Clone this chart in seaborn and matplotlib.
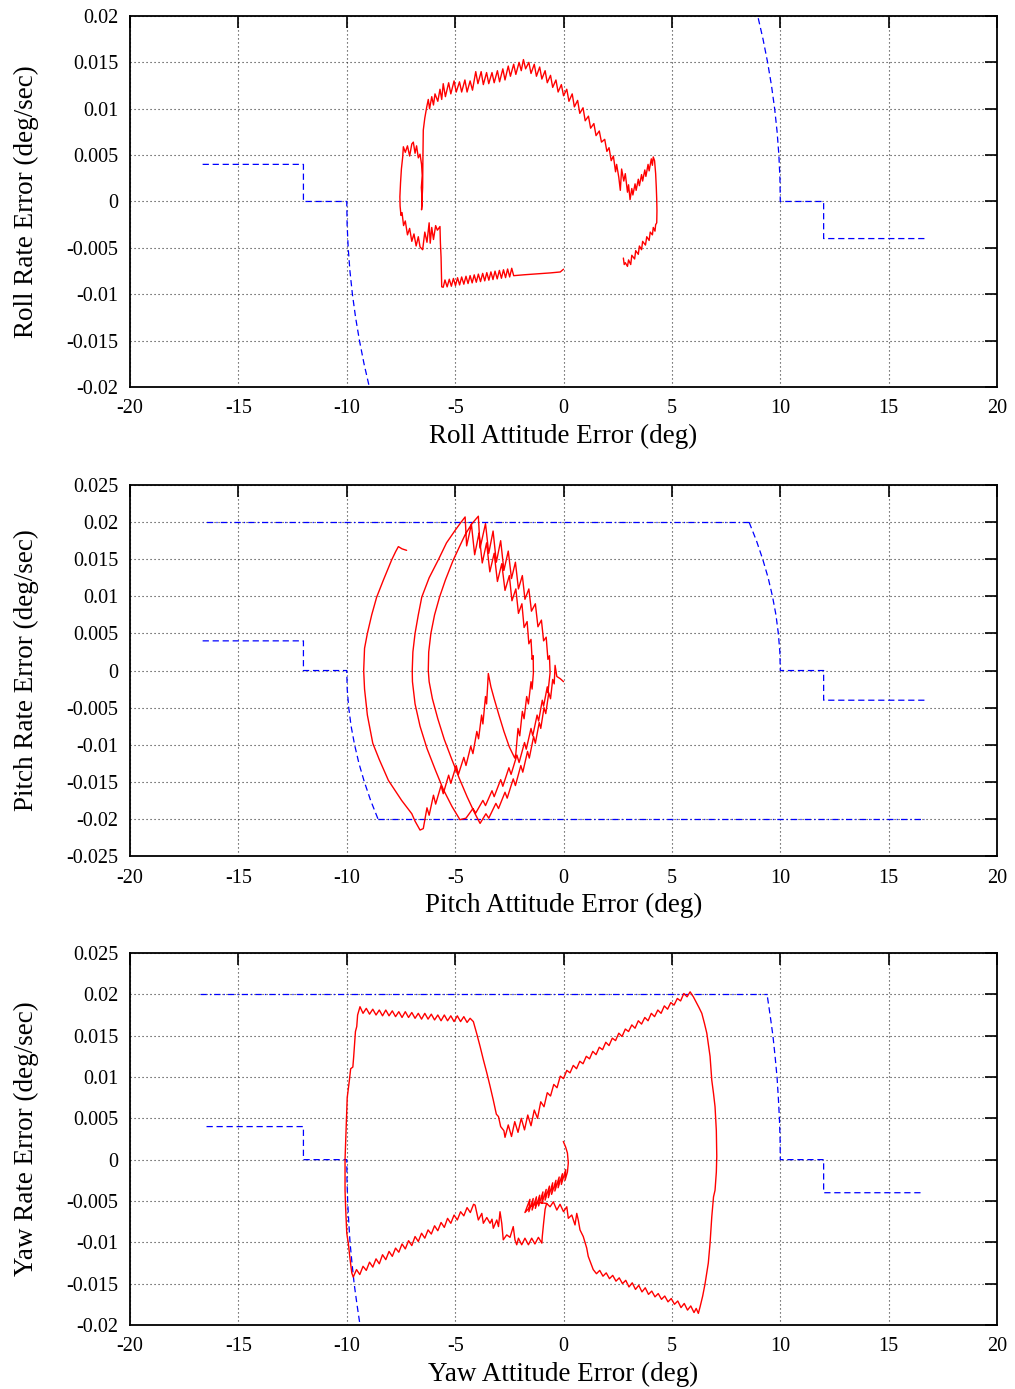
import numpy as np
import matplotlib
matplotlib.use("Agg")
import matplotlib.pyplot as plt
import seaborn as sns

# ---------------- data ----------------
x_ticks = [-20, -15, -10, -5, 0, 5, 10, 15, 20]
x_tick_labels = ["-20", "-15", "-10", "-5", "0", "5", "10", "15", "20"]

roll_yticks = [-0.02, -0.015, -0.01, -0.005, 0.0, 0.005, 0.01, 0.015, 0.02]
roll_ytick_labels = ["-0.02", "-0.015", "-0.01", "-0.005", "0", "0.005", "0.01", "0.015", "0.02"]
pitch_yticks = [-0.025, -0.02, -0.015, -0.01, -0.005, 0.0, 0.005, 0.01, 0.015, 0.02, 0.025]
pitch_ytick_labels = ["-0.025", "-0.02", "-0.015", "-0.01", "-0.005", "0", "0.005", "0.01", "0.015", "0.02", "0.025"]
yaw_yticks = [-0.02, -0.015, -0.01, -0.005, 0.0, 0.005, 0.01, 0.015, 0.02, 0.025]
yaw_ytick_labels = ["-0.02", "-0.015", "-0.01", "-0.005", "0", "0.005", "0.01", "0.015", "0.02", "0.025"]

# switching lines (blue)
roll_sw_x = [-16.65, -12.0, -12.0, -10.0, -10.0, -9.984, -9.935, -9.854, -9.74, -9.594, -9.415, -9.204, -8.96]
roll_sw_y = [0.004, 0.004, 0.0, 0.0, 0.0, -0.0025, -0.005, -0.0075, -0.01, -0.0125, -0.015, -0.0175, -0.02]
pitch_sw_x = [-16.65, -12.0, -12.0, -10.0, -10.0, -9.98, -9.91, -9.8, -9.64, -9.44, -9.19, -8.9, -8.56]
pitch_sw_y = [0.004, 0.004, 0.0, 0.0, 0.0, -0.0025, -0.005, -0.0075, -0.01, -0.0125, -0.015, -0.0175, -0.02]
pitch_limit_x = [-8.56, 16.65]
pitch_limit_y = [-0.02, -0.02]
yaw_sw_x = [-16.47, -12.0, -12.0, -10.0, -10.0, -9.99, -9.96, -9.91, -9.85, -9.76, -9.66, -9.53, -9.39]
yaw_sw_y = [0.004, 0.004, 0.0, 0.0, 0.0, -0.0025, -0.005, -0.0075, -0.01, -0.0125, -0.015, -0.0175, -0.02]
yaw_limit_x = [-16.75, 9.39]
yaw_limit_y = [0.02, 0.02]

# phase trajectories (red), (attitude deg, rate deg/sec)
roll_path = np.array([
    (0.0, -0.0073), (-0.15, -0.0076), (-0.6, -0.0077), (-1.2, -0.0078), (-1.8, -0.0079), (-2.3, -0.0080),
    (-2.39, -0.0072), (-2.485, -0.00814), (-2.58, -0.00728), (-2.675, -0.00821), (-2.77, -0.00736),
    (-2.865, -0.00828), (-2.96, -0.00743), (-3.06, -0.00835), (-3.16, -0.00751), (-3.255, -0.00842),
    (-3.35, -0.00759), (-3.445, -0.00849), (-3.54, -0.00767), (-3.635, -0.00856), (-3.73, -0.00775),
    (-3.83, -0.00864), (-3.93, -0.00783), (-4.025, -0.00871), (-4.12, -0.00791), (-4.215, -0.00878),
    (-4.31, -0.00799), (-4.405, -0.00885), (-4.5, -0.00806), (-4.6, -0.00892), (-4.7, -0.00814),
    (-4.795, -0.009), (-4.89, -0.00822), (-4.985, -0.00907), (-5.08, -0.0083), (-5.175, -0.00914),
    (-5.27, -0.00838), (-5.37, -0.00921), (-5.47, -0.00846), (-5.55, -0.00925),
    (-5.62, -0.0092), (-5.65, -0.006), (-5.68, -0.0045), (-5.7, -0.0027), (-5.82, -0.0031), (-5.9, -0.0026),
    (-6.0, -0.0041), (-6.08, -0.0028), (-6.15, -0.0045), (-6.2, -0.0023), (-6.3, -0.0044), (-6.4, -0.0033),
    (-6.5, -0.0052), (-6.62, -0.0049), (-6.7, -0.0038), (-6.8, -0.0048), (-6.9, -0.0035), (-7.0, -0.0043),
    (-7.1, -0.0029), (-7.2, -0.0036), (-7.3, -0.0021), (-7.38, -0.0026), (-7.45, -0.0012), (-7.5, -0.0015),
    (-7.54, -0.0005), (-7.55, 0.0005), (-7.52, 0.002), (-7.48, 0.0035), (-7.42, 0.0048), (-7.39, 0.0059),
    (-7.3, 0.0053), (-7.2, 0.006), (-7.1, 0.0049), (-7.0, 0.0062), (-6.93, 0.0064), (-6.85, 0.0052),
    (-6.78, 0.006), (-6.7, 0.0047), (-6.62, 0.0051), (-6.55, 0.004), (-6.52, 0.0028), (-6.56, 0.0015),
    (-6.52, 0.0), (-6.55, -0.0009), (-6.5, 0.0015), (-6.49, 0.0041), (-6.47, 0.0077), (-6.4, 0.009),
    (-6.31, 0.0102), (-6.24, 0.011), (-6.18, 0.01), (-6.08, 0.0113), (-6.0, 0.0104), (-5.93, 0.0116),
    (-5.8, 0.0108), (-5.7, 0.0121), (-5.62, 0.011), (-5.55, 0.0127), (-5.45, 0.0113), (-5.3, 0.0128),
    (-5.2, 0.0116), (-5.05, 0.013), (-4.95, 0.0118), (-4.8, 0.0129), (-4.7, 0.0118), (-4.55, 0.0131),
    (-4.45, 0.0118), (-4.31, 0.013), (-4.2, 0.012), (-4.05, 0.014), (-3.95, 0.0127), (-3.8, 0.014),
    (-3.7, 0.0126), (-3.55, 0.0139), (-3.45, 0.0127), (-3.3, 0.0139), (-3.2, 0.0128), (-3.05, 0.0141),
    (-2.95, 0.0129), (-2.8, 0.0143), (-2.7, 0.0131), (-2.55, 0.0146), (-2.45, 0.0135), (-2.3, 0.0148),
    (-2.2, 0.0137), (-2.05, 0.015), (-1.95, 0.0141), (-1.85, 0.0153), (-1.75, 0.0143), (-1.6, 0.015),
    (-1.5, 0.0138), (-1.35, 0.0148), (-1.25, 0.0135), (-1.1, 0.0145), (-1.0, 0.0132), (-0.85, 0.0141),
    (-0.75, 0.0128), (-0.6, 0.0136), (-0.5, 0.0123), (-0.35, 0.0131), (-0.25, 0.0118), (-0.1, 0.0126),
    (0.0, 0.0114), (0.15, 0.0121), (0.25, 0.0108), (0.4, 0.0116), (0.5, 0.0102), (0.65, 0.0109),
    (0.75, 0.0095), (0.9, 0.0101), (1.0, 0.0087), (1.15, 0.0092), (1.25, 0.0079), (1.4, 0.0084),
    (1.5, 0.0071), (1.65, 0.0076), (1.75, 0.0064), (1.9, 0.0067), (2.0, 0.0054), (2.1, 0.0058),
    (2.2, 0.0044), (2.3, 0.0049), (2.4, 0.0032), (2.45, 0.004), (2.55, 0.0026), (2.62, 0.0012),
    (2.68, 0.0035), (2.78, 0.0022), (2.85, 0.003), (2.95, 0.001), (3.0, 0.0018), (3.07, 0.0002),
    (3.15, 0.0014), (3.2, 0.0007), (3.3, 0.0019), (3.35, 0.0012), (3.45, 0.0024), (3.5, 0.0017),
    (3.6, 0.0029), (3.65, 0.0022), (3.75, 0.0034), (3.8, 0.0027), (3.9, 0.004), (3.95, 0.0033),
    (4.05, 0.0046), (4.1, 0.0039), (4.14, 0.0048), (4.2, 0.0044), (4.25, 0.003), (4.28, 0.0015),
    (4.3, 0.0002), (4.31, -0.001), (4.3, -0.0023), (4.25, -0.0025), (4.22, -0.0032), (4.14, -0.0028),
    (4.1, -0.0036), (4.0, -0.0033), (3.95, -0.0042), (3.84, -0.0038), (3.78, -0.0047), (3.65, -0.0043),
    (3.6, -0.0052), (3.5, -0.0048), (3.45, -0.0057), (3.33, -0.0053), (3.28, -0.0062), (3.15, -0.0058),
    (3.1, -0.0068), (3.0, -0.0063), (2.95, -0.007), (2.85, -0.0066), (2.8, -0.0068), (2.76, -0.0061),
])

pitch_path = np.array([
    (0.0, -0.0015), (-0.15, -0.0011), (-0.31, -0.0008), (-0.39, 0.0007), (-0.43, -0.0018), (-0.5, -0.0012),
    (-0.6, -0.0038), (-0.68, -0.003), (-0.82, -0.0058), (-0.9, -0.005), (-1.05, -0.0078), (-1.12, -0.007),
    (-1.3, -0.0098), (-1.38, -0.0089), (-1.58, -0.0118), (-1.66, -0.0109), (-1.88, -0.0137), (-1.97, -0.0128),
    (-2.22, -0.0155), (-2.32, -0.0146), (-2.6, -0.0172), (-2.7, -0.0164), (-3.0, -0.0186), (-3.12, -0.0179),
    (-3.45, -0.0199), (-3.58, -0.0193), (-3.85, -0.0206),
    (-4.1, -0.0192), (-4.45, -0.017), (-4.8, -0.0146), (-5.15, -0.012), (-5.5, -0.0093), (-5.8, -0.0065),
    (-6.05, -0.0038), (-6.2, -0.0015), (-6.24, 0.0), (-6.22, 0.0025), (-6.12, 0.005), (-5.95, 0.0075),
    (-5.72, 0.0099), (-5.45, 0.0122), (-5.1, 0.0148), (-4.8, 0.0167), (-4.54, 0.0183), (-4.25, 0.0197),
    (-4.05, 0.0204), (-3.93, 0.0208),
    (-3.85, 0.0165), (-3.6, 0.0198), (-3.45, 0.0158), (-3.25, 0.0188), (-3.1, 0.0146), (-2.9, 0.0175),
    (-2.75, 0.0135), (-2.55, 0.0161), (-2.4, 0.0124), (-2.22, 0.0146), (-2.08, 0.011), (-1.9, 0.0128),
    (-1.78, 0.0096), (-1.6, 0.011), (-1.48, 0.008), (-1.3, 0.009), (-1.18, 0.0059), (-1.02, 0.0068),
    (-0.92, 0.004), (-0.8, 0.0045), (-0.72, 0.0015), (-0.65, 0.002), (-0.62, -0.0003),
    (-0.72, -0.003), (-0.75, -0.0022), (-0.92, -0.0048), (-0.98, -0.004), (-1.15, -0.0068), (-1.22, -0.006),
    (-1.42, -0.0088), (-1.5, -0.0078), (-1.72, -0.0106), (-1.8, -0.0097), (-2.05, -0.0124), (-2.15, -0.0114),
    (-2.42, -0.014), (-2.52, -0.0131), (-2.8, -0.0156), (-2.9, -0.0147), (-3.2, -0.017), (-3.3, -0.0162),
    (-3.6, -0.0182), (-3.72, -0.0175), (-4.05, -0.0192), (-4.18, -0.0186), (-4.5, -0.0199), (-4.78, -0.0201),
    (-5.15, -0.0183), (-5.55, -0.016), (-5.9, -0.0135), (-6.3, -0.0105), (-6.62, -0.0075), (-6.85, -0.0045),
    (-6.97, -0.0015), (-6.98, 0.0), (-6.95, 0.0025), (-6.85, 0.005), (-6.7, 0.0075), (-6.54, 0.0099),
    (-6.2, 0.0125), (-5.78, 0.0149), (-5.4, 0.0172), (-5.0, 0.0189), (-4.75, 0.0199), (-4.54, 0.0207),
    (-4.47, 0.0168), (-4.25, 0.0197), (-4.1, 0.0156), (-3.9, 0.0185), (-3.75, 0.0145), (-3.55, 0.0172),
    (-3.4, 0.0133), (-3.2, 0.0158), (-3.05, 0.012), (-2.85, 0.0144), (-2.7, 0.0108), (-2.5, 0.0128),
    (-2.38, 0.0094), (-2.2, 0.011), (-2.08, 0.0077), (-1.92, 0.009), (-1.82, 0.0058), (-1.68, 0.0066),
    (-1.6, 0.0036), (-1.5, 0.0042), (-1.45, 0.0015), (-1.4, 0.002), (-1.39, -0.0003),
    (-1.45, -0.0025), (-1.5, -0.0015), (-1.62, -0.0045), (-1.7, -0.0035), (-1.82, -0.0065), (-1.9, -0.0055),
    (-2.02, -0.0088), (-2.1, -0.0078), (-2.2, -0.0112), (-2.25, -0.0118),
    (-2.5, -0.0103), (-2.75, -0.0082), (-2.98, -0.006), (-3.2, -0.0038), (-3.35, -0.0022), (-3.47, -0.0004),
    (-3.55, -0.0045), (-3.6, -0.0035), (-3.72, -0.0072), (-3.78, -0.006), (-3.92, -0.0092), (-4.0, -0.0082),
    (-4.18, -0.0112), (-4.28, -0.0102), (-4.5, -0.0128), (-4.6, -0.0117), (-4.85, -0.014), (-4.95, -0.0128),
    (-5.2, -0.0152), (-5.3, -0.0141), (-5.55, -0.0166), (-5.65, -0.0155), (-5.9, -0.018), (-6.0, -0.0168),
    (-6.2, -0.0195), (-6.3, -0.0185), (-6.47, -0.0213), (-6.62, -0.0215),
    (-6.85, -0.0203), (-7.0, -0.0193), (-7.47, -0.0175), (-8.08, -0.0148), (-8.5, -0.012), (-8.8, -0.0098),
    (-9.05, -0.006), (-9.18, -0.0025), (-9.22, 0.0), (-9.18, 0.003), (-9.05, 0.005), (-8.85, 0.0075),
    (-8.62, 0.0099), (-8.31, 0.0122), (-7.93, 0.0149), (-7.75, 0.016), (-7.62, 0.0167), (-7.45, 0.0164),
    (-7.24, 0.0162),
])

yaw_path = np.array([
    (-0.01, 0.0022), (0.1, 0.0015), (0.18, 0.0008), (0.22, -0.0004), (0.18, -0.0015), (0.07, -0.0025),
    (0.1, -0.0012), (-0.1, -0.003), (-0.05, -0.0017), (-0.25, -0.0034), (-0.2, -0.0021), (-0.4, -0.0038),
    (-0.35, -0.0025), (-0.55, -0.0042), (-0.5, -0.0028), (-0.7, -0.0046), (-0.65, -0.0032), (-0.85, -0.0049),
    (-0.8, -0.0036), (-1.0, -0.0053), (-0.95, -0.0039), (-1.15, -0.0056), (-1.1, -0.0043), (-1.3, -0.0059),
    (-1.25, -0.0045), (-1.45, -0.0061), (-1.4, -0.0047), (-1.6, -0.0063), (-1.55, -0.0048), (-1.78, -0.0064),
    (-1.5, -0.0056), (-1.1, -0.0052), (-0.78, -0.0053),
    (-0.62, -0.0057), (-0.47, -0.0051), (-0.31, -0.0061), (-0.16, -0.0054), (0.0, -0.0063), (0.15, -0.0057),
    (0.22, -0.0071), (0.38, -0.0067), (0.53, -0.0079), (0.61, -0.0065), (0.68, -0.0073), (0.76, -0.0085),
    (0.91, -0.0093), (1.07, -0.0107), (1.14, -0.0117), (1.37, -0.0133),
    (1.52, -0.0138), (1.67, -0.0134), (1.82, -0.0141), (1.97, -0.0137), (2.12, -0.0144), (2.27, -0.014),
    (2.42, -0.0147), (2.57, -0.0143), (2.72, -0.015), (2.87, -0.0146), (3.02, -0.0154), (3.17, -0.0149),
    (3.32, -0.0157), (3.47, -0.0152), (3.62, -0.016), (3.77, -0.0155), (3.92, -0.0163), (4.07, -0.0159),
    (4.22, -0.0166), (4.37, -0.0162), (4.52, -0.0169), (4.67, -0.0165), (4.82, -0.0172), (4.97, -0.0168),
    (5.12, -0.0175), (5.27, -0.0171), (5.42, -0.0179), (5.57, -0.0174), (5.72, -0.0182), (5.87, -0.0177),
    (6.02, -0.0185), (6.12, -0.018), (6.22, -0.0186),
    (6.3, -0.0178), (6.42, -0.0165), (6.53, -0.015), (6.62, -0.0135), (6.68, -0.0125), (6.76, -0.0101),
    (6.84, -0.0069), (6.92, -0.0045), (6.99, -0.0037), (7.05, -0.0015), (7.07, 0.0004), (7.05, 0.0035),
    (6.99, 0.0064), (6.92, 0.008), (6.84, 0.0096), (6.76, 0.0125), (6.68, 0.014), (6.61, 0.0153),
    (6.5, 0.0165), (6.38, 0.0177), (6.25, 0.0184), (6.15, 0.0189), (5.99, 0.0197), (5.84, 0.0203),
    (5.7, 0.0197), (5.55, 0.0201), (5.4, 0.0192), (5.25, 0.0195), (5.1, 0.0187), (4.95, 0.019),
    (4.8, 0.0182), (4.65, 0.0186), (4.5, 0.0177), (4.35, 0.0181), (4.2, 0.0173), (4.05, 0.0177),
    (3.9, 0.0168), (3.75, 0.0172), (3.6, 0.0164), (3.45, 0.0168), (3.3, 0.0159), (3.15, 0.0163),
    (3.0, 0.0155), (2.85, 0.0158), (2.7, 0.0149), (2.55, 0.0153), (2.4, 0.0144), (2.25, 0.0147),
    (2.1, 0.0138), (1.95, 0.0142), (1.8, 0.0133), (1.65, 0.0136), (1.5, 0.0127), (1.35, 0.0131),
    (1.2, 0.0122), (1.05, 0.0125), (0.9, 0.0116), (0.75, 0.0119), (0.6, 0.011), (0.45, 0.0114),
    (0.3, 0.0105), (0.15, 0.0108), (0.0, 0.0098), (-0.15, 0.0101), (-0.3, 0.0087), (-0.45, 0.0091),
    (-0.6, 0.0077), (-0.75, 0.0081), (-0.9, 0.0064), (-1.05, 0.007), (-1.2, 0.005), (-1.35, 0.006),
    (-1.5, 0.0041), (-1.65, 0.0054), (-1.8, 0.0036), (-1.95, 0.005), (-2.1, 0.0033), (-2.25, 0.0046),
    (-2.4, 0.0028), (-2.55, 0.0042), (-2.7, 0.0027),
    (-2.75, 0.0035), (-2.9, 0.004), (-3.0, 0.0052), (-3.1, 0.0055), (-3.24, 0.0072), (-3.4, 0.009),
    (-3.54, 0.0105), (-3.7, 0.0121), (-3.85, 0.0137), (-4.0, 0.0152), (-4.16, 0.0167), (-4.31, 0.0171),
    (-4.45, 0.0166), (-4.6, 0.0173), (-4.75, 0.0167), (-4.9, 0.0174), (-5.05, 0.0167), (-5.2, 0.0174),
    (-5.35, 0.0168), (-5.5, 0.0175), (-5.65, 0.0168), (-5.8, 0.0175), (-5.95, 0.0169), (-6.1, 0.0176),
    (-6.25, 0.017), (-6.4, 0.0177), (-6.55, 0.017), (-6.7, 0.0177), (-6.85, 0.0171), (-7.0, 0.0178),
    (-7.15, 0.0172), (-7.3, 0.0179), (-7.45, 0.0172), (-7.6, 0.0179), (-7.75, 0.0173), (-7.9, 0.018),
    (-8.05, 0.0174), (-8.2, 0.0181), (-8.35, 0.0174), (-8.5, 0.0181), (-8.65, 0.0175), (-8.8, 0.0182),
    (-8.95, 0.0176), (-9.1, 0.0183), (-9.25, 0.0177), (-9.39, 0.0185),
    (-9.5, 0.0175), (-9.54, 0.0161), (-9.6, 0.0155), (-9.68, 0.0125), (-9.72, 0.0112), (-9.82, 0.011),
    (-9.88, 0.0096), (-9.98, 0.0075), (-10.03, 0.0036), (-10.08, 0.0), (-10.08, -0.0037), (-10.05, -0.006),
    (-10.0, -0.0089), (-9.93, -0.0101), (-9.85, -0.012), (-9.77, -0.0137), (-9.7, -0.0142),
    (-9.55, -0.0133), (-9.4, -0.0139), (-9.25, -0.0129), (-9.1, -0.0134), (-8.95, -0.0124), (-8.8, -0.013),
    (-8.65, -0.012), (-8.5, -0.0126), (-8.35, -0.0115), (-8.2, -0.0121), (-8.05, -0.0111), (-7.9, -0.0117),
    (-7.75, -0.0107), (-7.6, -0.0112), (-7.45, -0.0102), (-7.3, -0.0108), (-7.15, -0.0098), (-7.0, -0.0104),
    (-6.85, -0.0093), (-6.7, -0.0099), (-6.55, -0.0089), (-6.4, -0.0095), (-6.25, -0.0085), (-6.1, -0.009),
    (-5.95, -0.008), (-5.8, -0.0086), (-5.65, -0.0076), (-5.5, -0.0082), (-5.35, -0.0071), (-5.2, -0.0077),
    (-5.05, -0.0067), (-4.9, -0.0073), (-4.75, -0.0063), (-4.6, -0.0068), (-4.45, -0.0058), (-4.3, -0.0064),
    (-4.15, -0.0054), (-4.08, -0.0055),
    (-3.93, -0.0073), (-3.77, -0.0065), (-3.7, -0.0077), (-3.54, -0.007), (-3.39, -0.0077), (-3.3, -0.0072),
    (-3.24, -0.0083), (-3.08, -0.0073), (-3.0, -0.0081), (-2.93, -0.0063), (-2.85, -0.0077), (-2.78, -0.0097),
    (-2.62, -0.0091), (-2.47, -0.0094), (-2.32, -0.0081), (-2.24, -0.0097), (-2.16, -0.0103),
    (-2.08, -0.0095), (-1.93, -0.0103), (-1.78, -0.0095), (-1.62, -0.0103), (-1.47, -0.0095), (-1.32, -0.0102),
    (-1.16, -0.0094), (-1.0, -0.0101), (-0.98, -0.0093), (-0.92, -0.0077), (-0.85, -0.006), (-0.78, -0.0053),
])

# ---------------- figure formatting ----------------
sns.set_theme(style="white")
plt.rcParams['font.family'] = ['Liberation Serif', 'DejaVu Serif']
plt.rcParams['axes.unicode_minus'] = False

RED = '#ff0000'
BLUE = '#0000ff'
DASH = (0, (5, 3))
DASHDOT = (0, (5, 2.5, 1, 2.5))

fig = plt.figure(figsize=(10.15, 13.89), dpi=100)
ax1 = fig.add_axes([0.1281, 0.7214, 0.8542, 0.2671])
ax2 = fig.add_axes([0.1281, 0.3837, 0.8542, 0.2671])
ax3 = fig.add_axes([0.1281, 0.0461, 0.8542, 0.2678])


def style_axes(ax, yticks, ylabels, ylim, xlabel, ylabel):
    ax.set_xlim(-20, 20)
    ax.set_ylim(*ylim)
    ax.set_xticks(x_ticks)
    ax.set_xticklabels(x_tick_labels)
    ax.set_yticks(yticks)
    ax.set_yticklabels(ylabels)
    ax.tick_params(direction='in', length=8.5, width=1.2, top=True, right=True,
                   labelsize=14.5, colors='black')
    ax.tick_params(axis='x', pad=9)
    ax.tick_params(axis='y', pad=8.5)
    ax.set_axisbelow(True)
    ax.grid(True, color='#303030', linestyle=(0, (1, 2.6)), linewidth=0.8)
    for s in ax.spines.values():
        s.set_visible(True)
        s.set_color('black')
        s.set_linewidth(1.3)
    ax.set_xlabel(xlabel, fontsize=19.5, color='black')
    ax.set_ylabel(ylabel, fontsize=19.5, color='black')
    ax.xaxis.set_label_coords(0.5, -0.099)
    ax.yaxis.set_label_coords(-0.105, 0.5)


def line(ax, x, y, color, ls='-', lw=0.9):
    sns.lineplot(x=x, y=y, ax=ax, sort=False, estimator=None, color=color,
                 linewidth=lw, linestyle=ls)


# Panel 1: roll
line(ax1, roll_sw_x, roll_sw_y, BLUE, DASH)
line(ax1, [-v for v in roll_sw_x], [-v for v in roll_sw_y], BLUE, DASH)
line(ax1, roll_path[:, 0], roll_path[:, 1], RED, lw=1.0)
style_axes(ax1, roll_yticks, roll_ytick_labels, (-0.02, 0.02),
           "Roll Attitude Error (deg)", "Roll Rate Error (deg/sec)")

# Panel 2: pitch
line(ax2, pitch_sw_x, pitch_sw_y, BLUE, DASH)
line(ax2, [-v for v in pitch_sw_x], [-v for v in pitch_sw_y], BLUE, DASH)
line(ax2, pitch_limit_x, pitch_limit_y, BLUE, DASHDOT)
line(ax2, [-v for v in pitch_limit_x], [-v for v in pitch_limit_y], BLUE, DASHDOT)
line(ax2, pitch_path[:, 0], pitch_path[:, 1], RED, lw=1.0)
style_axes(ax2, pitch_yticks, pitch_ytick_labels, (-0.025, 0.025),
           "Pitch Attitude Error (deg)", "Pitch Rate Error (deg/sec)")

# Panel 3: yaw
line(ax3, yaw_sw_x, yaw_sw_y, BLUE, DASH)
line(ax3, [-v for v in yaw_sw_x], [-v for v in yaw_sw_y], BLUE, DASH)
line(ax3, yaw_limit_x, yaw_limit_y, BLUE, DASHDOT)
line(ax3, yaw_path[:, 0], yaw_path[:, 1], RED, lw=1.0)
style_axes(ax3, yaw_yticks, yaw_ytick_labels, (-0.02, 0.025),
           "Yaw Attitude Error (deg)", "Yaw Rate Error (deg/sec)")

fig.savefig("out.png", dpi=100)
